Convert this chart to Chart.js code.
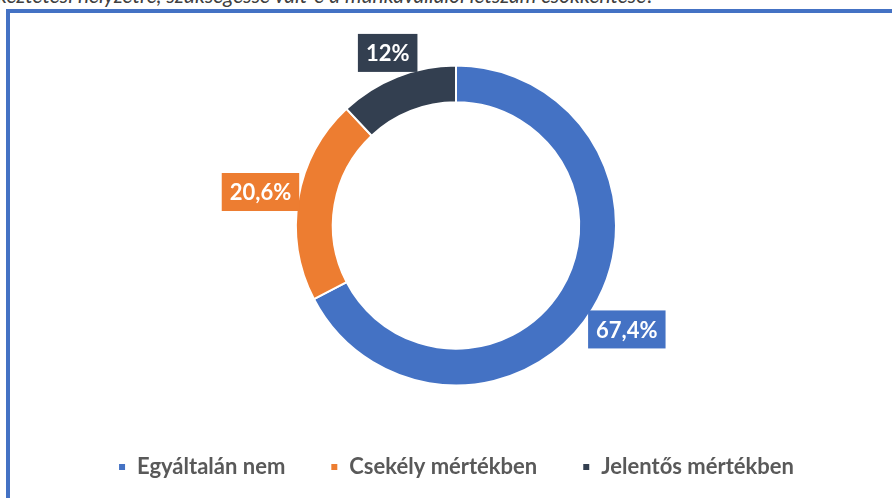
<!DOCTYPE html>
<html lang="hu">
<head>
<meta charset="utf-8">
<title>Létszámcsökkentés</title>
<script src="https://cdn.jsdelivr.net/npm/chart.js@4/dist/chart.umd.min.js"></script>
<style>
    html, body { margin: 0; padding: 0; background: #fff; }
    body { width: 892px; height: 498px; position: relative; overflow: hidden; }
    .kerdes {
        position: absolute; left: -3px; top: -16px; white-space: nowrap;
        font: italic 21px Lato, sans-serif; line-height: 21px; color: #404040;
    }
    .keret {
        position: absolute; left: 6px; top: 9px; width: 900px; height: 520px;
        border-left: 4px solid #4472C4; border-top: 4px solid #4472C4;
    }
    #tarto { position: absolute; left: 0; top: 0; width: 892px; height: 498px; }
</style>
</head>
<body>
<div class="kerdes">keztetési helyzetre, szükségessé vált-e a munkavállalói létszám csökkentése?</div>
<div class="keret"></div>
<div id="tarto"><canvas id="chartLetszam"></canvas></div>
<script>
// Adatok
const kategoriak = ['Egyáltalán nem', 'Csekély mértékben', 'Jelentős mértékben'];
const ertekek = [67.4, 20.6, 12];
const szinek = ['#4472C4', '#ED7D31', '#333F50'];

// Százalék címkék a szeletek mellett (színes dobozban)
const cimkePlugin = {
    id: 'cimkek',
    afterDatasetsDraw(chart) {
        const ctx = chart.ctx;
        const meta = chart.getDatasetMeta(0);
        const meret = 22;
        const padX = 8, padY = 8;
        ctx.save();
        ctx.font = 'bold ' + meret + 'px Lato, sans-serif';
        ctx.textAlign = 'center';
        ctx.textBaseline = 'middle';
        meta.data.forEach(function (arc, i) {
            const p = arc.getProps(['x', 'y', 'startAngle', 'endAngle', 'outerRadius'], true);
            const kozep = (p.startAngle + p.endAngle) / 2;
            const ux = Math.cos(kozep), uy = Math.sin(kozep);
            const szoveg = ertekek[i].toString().replace('.', ',') + '%';
            const w = ctx.measureText(szoveg).width + padX * 2;
            const h = meret + padY * 2;
            const d = p.outerRadius - 3 + Math.abs(ux) * w / 2 + Math.abs(uy) * h / 2;
            const cx = p.x + ux * d, cy = p.y + uy * d;
            ctx.fillStyle = szinek[i];
            ctx.fillRect(cx - w / 2, cy - h / 2, w, h);
            ctx.fillStyle = '#ffffff';
            ctx.fillText(szoveg, cx, cy + 1);
        });
        ctx.restore();
    }
};

new Chart(document.getElementById('chartLetszam'), {
    type: 'doughnut',
    data: {
        labels: kategoriak,
        datasets: [{
            data: ertekek,
            backgroundColor: szinek,
            borderColor: '#ffffff',
            borderWidth: 2
        }]
    },
    options: {
        responsive: true,
        maintainAspectRatio: false,
        animation: false,
        radius: 160,
        cutout: '77%',
        layout: {
            padding: { left: 20, right: 0, top: 40, bottom: 10 }
        },
        plugins: {
            tooltip: { enabled: false },
            legend: {
                position: 'bottom',
                labels: {
                    boxWidth: 8,
                    boxHeight: 8,
                    padding: 45,
                    color: '#595959',
                    font: { family: 'Lato, sans-serif', size: 22, weight: 'bold' }
                }
            }
        }
    },
    plugins: [cimkePlugin]
});
</script>
</body>
</html>
